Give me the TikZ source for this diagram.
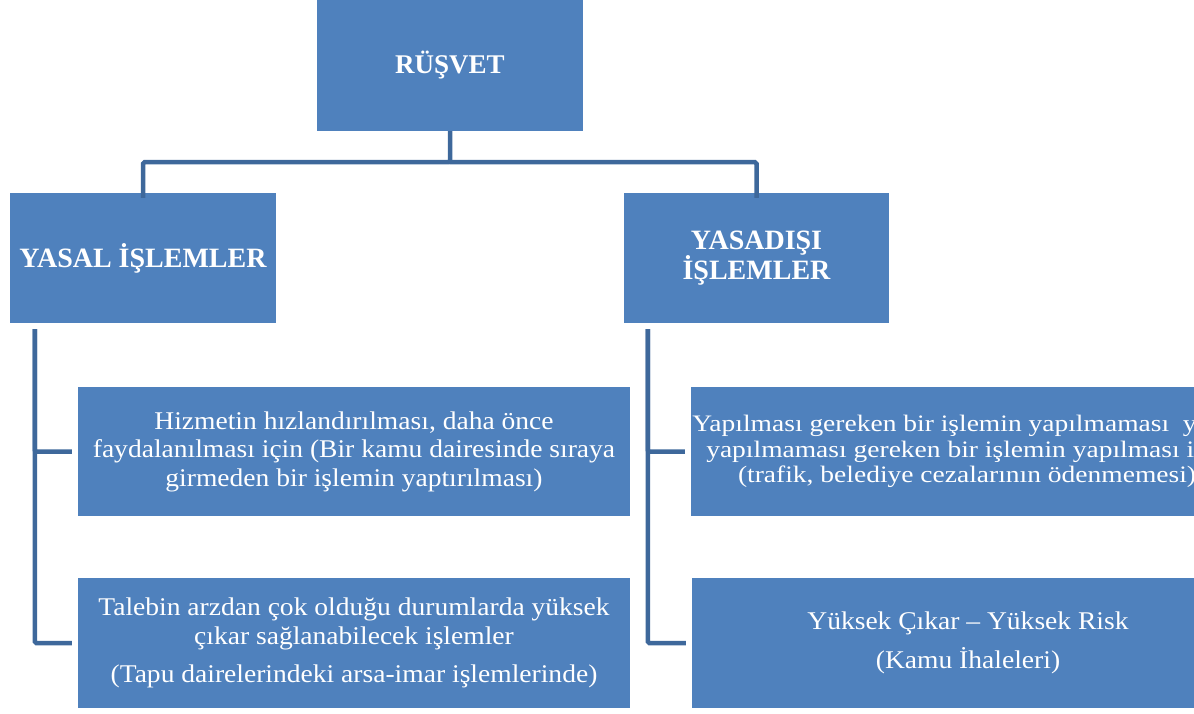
\documentclass[tikz,border=0pt]{standalone}
\usepackage{fontspec}
\setmainfont{Liberation Serif}
% slightly widened faces for the box texts
\newfontfamily\bodyfont[FakeStretch=1.08]{Liberation Serif}
\newfontfamily\widebody[FakeStretch=1.165]{Liberation Serif}
\definecolor{boxblue}{RGB}{79,129,189}
\definecolor{linkblue}{RGB}{62,104,155}
\tikzset{
  box/.style={fill=boxblue, text=white, inner sep=0pt, align=center},
  headbox/.style={box, font=\fontsize{28}{30}\selectfont\bfseries},
  textbox/.style={box, font=\bodyfont\fontsize{25.5}{28.5}\selectfont},
  widebox/.style={box, font=\widebody\fontsize{23.6}{25.5}\selectfont},
  link/.style={draw=linkblue, line width=4.5pt, rounded corners=1.5pt}
}
\begin{document}
\begin{tikzpicture}[x=1pt,y=-1pt]
\useasboundingbox (0,0) rectangle (1194,713);
\clip (0,0) rectangle (1194,713);

% top level
\node[headbox, font=\fontsize{27}{30}\selectfont\bfseries, minimum width=266pt, minimum height=131pt] (rusvet) at (450,65.5) {RÜŞVET};

% second level
\node[headbox, minimum width=266pt, minimum height=130pt] (yasal) at (143,258) {YASAL İŞLEMLER};
\node[headbox, minimum width=265pt, minimum height=130pt] (yasadisi) at (756.5,258) {YASADIŞI\\İŞLEMLER};

% legal branch
\node[textbox, minimum width=552pt, minimum height=129pt] (h1) at (354,451.5)
  {Hizmetin hızlandırılması, daha önce\\faydalanılması için (Bir kamu dairesinde sıraya\\girmeden bir işlemin yaptırılması)};
\node[textbox, minimum width=552pt, minimum height=130pt] (h2) at (354,643)
  {Talebin arzdan çok olduğu durumlarda yüksek\\çıkar sağlanabilecek işlemler\\[10pt](Tapu dairelerindeki arsa-imar işlemlerinde)};

% illegal branch
\node[widebox, minimum width=552pt, minimum height=129pt] (r1) at (967,451.5)
  {Yapılması gereken bir işlemin yapılmaması\ \ ya da\\yapılmaması gereken bir işlemin yapılması için\\(trafik, belediye cezalarının ödenmemesi)};
\node[textbox, minimum width=552pt, minimum height=130pt] (r2) at (968,643)
  {Yüksek Çıkar – Yüksek Risk\\[11pt](Kamu İhaleleri)};

% connectors
\coordinate (bus) at ([yshift=-31pt]rusvet.south);
\draw[link] (rusvet.south) -- (bus) -| ([yshift=-5pt]yasal.north);
\draw[link] (bus) -| ([yshift=-5pt]yasadisi.north);

\draw[link] ([xshift=25pt,yshift=-6pt]yasal.south west) |- ([xshift=-6pt]h1.west);
\draw[link] ([xshift=25pt,yshift=-6pt]yasal.south west) |- ([xshift=-6pt]h2.west);
\draw[link] ([xshift=24pt,yshift=-6pt]yasadisi.south west) |- ([xshift=-6pt]r1.west);
\draw[link] ([xshift=24pt,yshift=-6pt]yasadisi.south west) |- ([xshift=-6pt]r2.west);
\end{tikzpicture}
\end{document}
